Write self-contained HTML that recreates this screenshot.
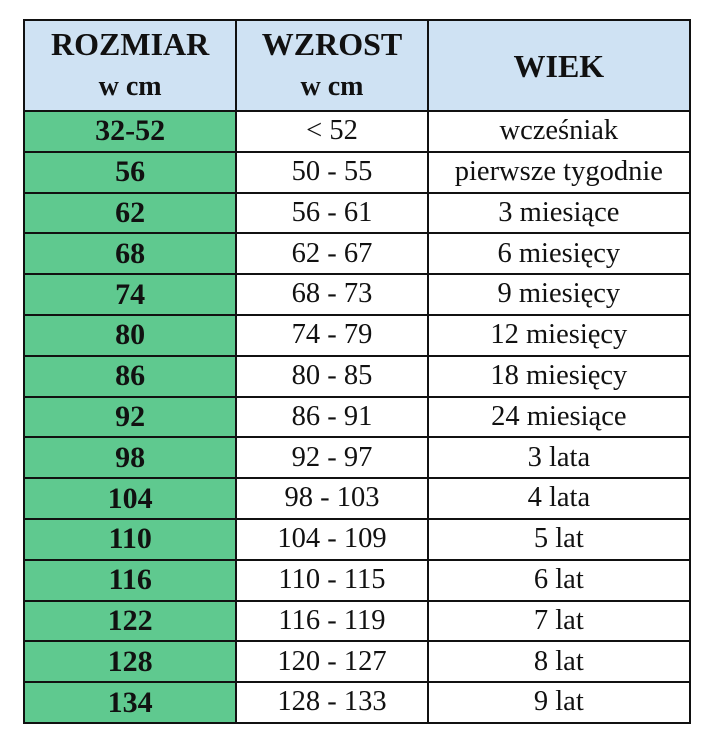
<!DOCTYPE html>
<html><head><meta charset="utf-8"><style>
body{margin:0;background:#fff;width:720px;height:756px;overflow:hidden;font-family:"Liberation Serif",serif;}
table{position:absolute;left:23px;top:19px;border-collapse:collapse;width:668px;}
td{border:2px solid #111;text-align:center;padding:0;height:38.8px;font-size:28.5px;color:#111;line-height:1;white-space:nowrap}
td.g{background:#5fc98f;font-weight:bold;font-size:30px}
tr.h td{background:#cfe2f3;font-weight:bold;height:89px;font-size:32px;line-height:40px}
tr.h small{font-size:28px}
</style></head><body>
<table>
<colgroup><col style="width:213px"><col style="width:192px"><col style="width:263px"></colgroup>
<tr class="h"><td>ROZMIAR<br><small>w cm</small></td><td>WZROST<br><small>w cm</small></td><td>WIEK</td></tr>
<tr><td class="g">32-52</td><td>&lt; 52</td><td>wcześniak</td></tr>
<tr><td class="g">56</td><td>50 - 55</td><td>pierwsze tygodnie</td></tr>
<tr><td class="g">62</td><td>56 - 61</td><td>3 miesiące</td></tr>
<tr><td class="g">68</td><td>62 - 67</td><td>6 miesięcy</td></tr>
<tr><td class="g">74</td><td>68 - 73</td><td>9 miesięcy</td></tr>
<tr><td class="g">80</td><td>74 - 79</td><td>12 miesięcy</td></tr>
<tr><td class="g">86</td><td>80 - 85</td><td>18 miesięcy</td></tr>
<tr><td class="g">92</td><td>86 - 91</td><td>24 miesiące</td></tr>
<tr><td class="g">98</td><td>92 - 97</td><td>3 lata</td></tr>
<tr><td class="g">104</td><td>98 - 103</td><td>4 lata</td></tr>
<tr><td class="g">110</td><td>104 - 109</td><td>5 lat</td></tr>
<tr><td class="g">116</td><td>110 - 115</td><td>6 lat</td></tr>
<tr><td class="g">122</td><td>116 - 119</td><td>7 lat</td></tr>
<tr><td class="g">128</td><td>120 - 127</td><td>8 lat</td></tr>
<tr><td class="g">134</td><td>128 - 133</td><td>9 lat</td></tr>
</table>
</body></html>
